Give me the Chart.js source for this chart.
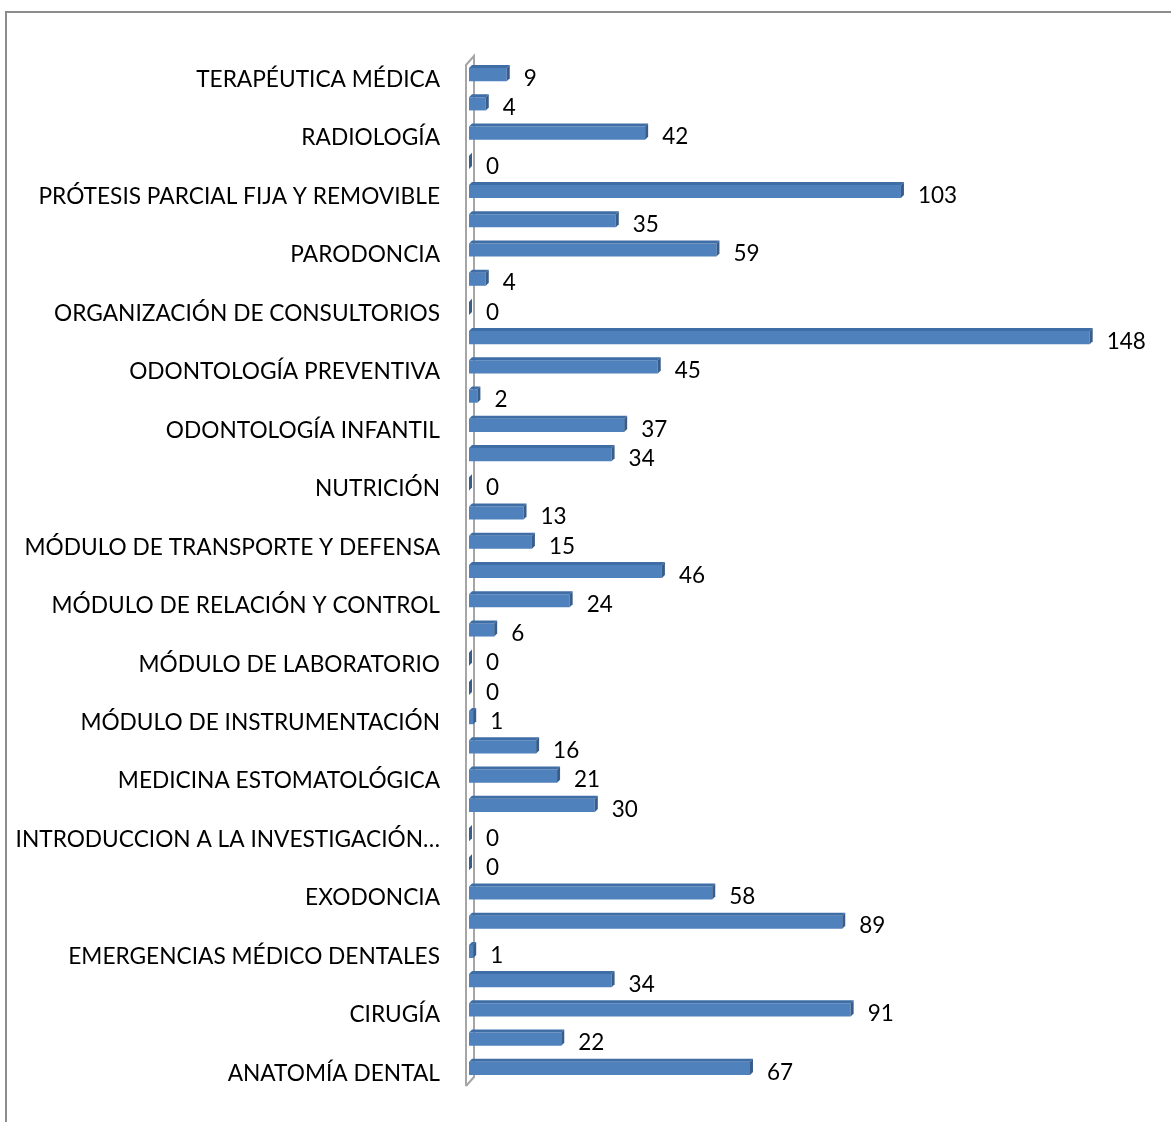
<!DOCTYPE html>
<html><head><meta charset="utf-8">
<script src="https://cdn.jsdelivr.net/npm/chart.js@4/dist/chart.umd.min.js"></script>
<style>
html,body{margin:0;padding:0;background:#fff;}
#wrap{position:relative;width:1171px;height:1122px;overflow:hidden;}
#frame{position:absolute;left:5px;top:11px;width:1300px;height:1300px;border-top:2px solid #8c8c8c;border-left:2px solid #8c8c8c;box-sizing:border-box;}
canvas{position:absolute;left:0;top:0;}
</style></head>
<body><div id="wrap"><div id="frame"></div><canvas id="c" width="1171" height="1122"></canvas></div>
<script>
// categories top to bottom (unlabeled categories were skipped in the original axis)
const categories = [
  "TERAPÉUTICA MÉDICA", "", "RADIOLOGÍA", "", "PRÓTESIS PARCIAL FIJA Y REMOVIBLE", "",
  "PARODONCIA", "", "ORGANIZACIÓN DE CONSULTORIOS", "", "ODONTOLOGÍA PREVENTIVA", "",
  "ODONTOLOGÍA INFANTIL", "", "NUTRICIÓN", "", "MÓDULO DE TRANSPORTE Y DEFENSA", "",
  "MÓDULO DE RELACIÓN Y CONTROL", "", "MÓDULO DE LABORATORIO", "", "MÓDULO DE INSTRUMENTACIÓN", "",
  "MEDICINA ESTOMATOLÓGICA", "", "INTRODUCCION A LA INVESTIGACIÓN…", "", "EXODONCIA", "",
  "EMERGENCIAS MÉDICO DENTALES", "", "CIRUGÍA", "", "ANATOMÍA DENTAL"
];
const values = [
  9, 4, 42, 0, 103, 35, 59, 4, 0, 148, 45, 2, 37, 34, 0, 13, 15, 46,
  24, 6, 0, 0, 1, 16, 21, 30, 0, 0, 58, 89, 1, 34, 91, 22, 67
];
const xMax = 160;

const FRONT = '#4f81bd', DARK = '#385d8a', TOPC = '#3f6ea6';
const FONT = 'Lato, Carlito, "Open Sans", sans-serif';

const wallPlugin = {
  id: 'wall',
  beforeDatasetsDraw(chart) {
    const {ctx, chartArea: a} = chart;
    ctx.save();
    ctx.strokeStyle = '#a6a6a6';
    ctx.lineWidth = 2;
    const l = a.left - 3, d = 8;
    ctx.beginPath();
    ctx.moveTo(l, a.bottom + 3);
    ctx.lineTo(l, a.top + 5);
    ctx.lineTo(l + d, a.top - 4);
    ctx.lineTo(l + d, a.bottom - 6);
    ctx.lineTo(l, a.bottom + 3);
    ctx.stroke();
    ctx.restore();
  }
};

const bar3d = {
  id: 'bar3d',
  afterDatasetsDraw(chart) {
    const {ctx} = chart;
    const meta = chart.getDatasetMeta(0);
    ctx.save();
    meta.data.forEach((el, i) => {
      const p = el.getProps(['x', 'y', 'base', 'height'], true);
      const top = p.y - p.height / 2, bot = p.y + p.height / 2;
      const d = 3;
      ctx.fillStyle = TOPC;
      ctx.beginPath();
      ctx.moveTo(p.base, top);
      ctx.lineTo(p.base + d, top - d);
      ctx.lineTo(p.x + d, top - d);
      ctx.lineTo(p.x, top);
      ctx.closePath();
      ctx.fill();
      ctx.fillStyle = DARK;
      ctx.beginPath();
      ctx.moveTo(p.x, top);
      ctx.lineTo(p.x + d, top - d);
      ctx.lineTo(p.x + d, bot - d);
      ctx.lineTo(p.x, bot);
      ctx.closePath();
      ctx.fill();
      ctx.fillStyle = '#000';
      ctx.font = '22.5px ' + FONT;
      ctx.textAlign = 'left';
      ctx.textBaseline = 'middle';
      ctx.fillText(String(values[i]), p.x + 17, p.y + 4);
    });
    ctx.restore();
  }
};

new Chart(document.getElementById('c'), {
  type: 'bar',
  data: {
    labels: categories,
    datasets: [{
      data: values,
      backgroundColor: FRONT,
      borderWidth: 0,
      barPercentage: 0.9,
      categoryPercentage: 0.5
    }]
  },
  options: {
    indexAxis: 'y',
    responsive: false,
    animation: false,
    layout: {padding: {left: 0, right: 31, top: 60, bottom: 39}},
    plugins: {legend: {display: false}, tooltip: {enabled: false}},
    scales: {
      x: {display: false, min: 0, max: xMax},
      y: {
        grid: {display: false},
        border: {display: false},
        ticks: {autoSkip: false, color: '#000', font: {family: FONT, size: 22.7}, padding: 21, labelOffset: 5},
        afterFit(s) { s.width = 469; }
      }
    }
  },
  plugins: [wallPlugin, bar3d]
});
</script></body></html>
